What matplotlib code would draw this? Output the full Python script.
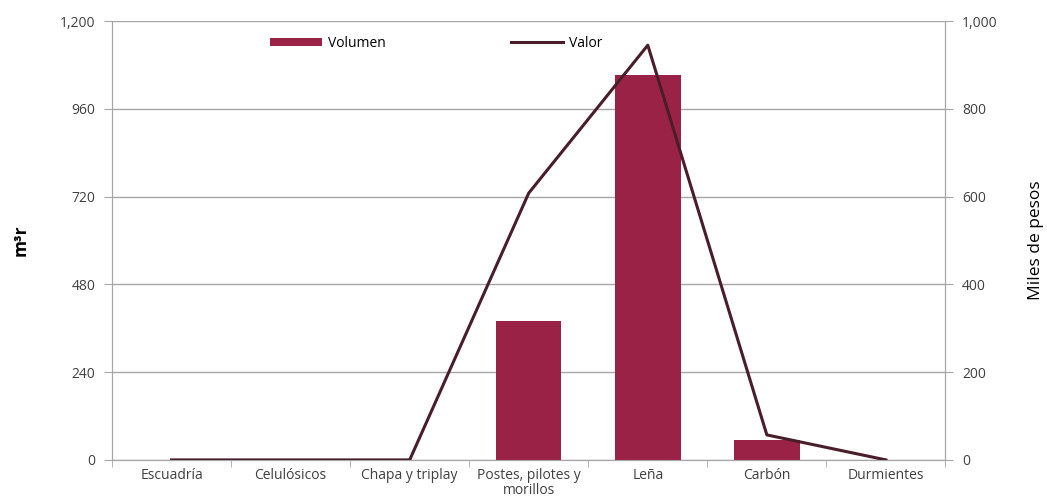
import matplotlib
matplotlib.use("Agg")
import matplotlib.pyplot as plt
from matplotlib.ticker import FuncFormatter
import numpy as np

plt.rcParams['font.family'] = ['Open Sans', 'DejaVu Sans']

categorias = ["Escuadría", "Celulósicos", "Chapa y triplay", "Postes, pilotes y\nmorillos",
              "Leña", "Carbón", "Durmientes"]
volumen = [0, 0, 0, 380, 1052, 55, 0]
valor = [0, 0, 0, 608, 945, 57, 0]

bar_color = "#9B2247"
line_color = "#4A1D2A"
grid_gray = "#A6A6A6"
text_gray = "#404040"

fig = plt.figure(figsize=(10.47, 5.01), dpi=100)
ax = fig.add_axes([0.107, 0.082, 0.796, 0.876])
ax2 = ax.twinx()

x = np.arange(len(categorias))
ax.bar(x, volumen, width=0.55, color=bar_color, label="Volumen", zorder=3)
ax2.plot(x, valor, color=line_color, lw=2.2, label="Valor", zorder=4)

ax.set_xlim(-0.5, len(categorias) - 0.5)
ax.set_ylim(0, 1200)
ax.set_yticks(np.arange(0, 1201, 240))
ax2.set_ylim(0, 1000)
ax2.set_yticks(np.arange(0, 1001, 200))
fmt = FuncFormatter(lambda v, p: f"{int(v):,}")
ax.yaxis.set_major_formatter(fmt)
ax2.yaxis.set_major_formatter(fmt)

ax.grid(axis="y", color=grid_gray, lw=1, zorder=0)
ax.set_axisbelow(True)

ax.set_xticks(x)
ax.set_xticklabels(categorias, fontsize=10, color=text_gray, linespacing=0.95)
ax.set_xticks(np.arange(-0.5, len(categorias), 1), minor=True)
ax.tick_params(axis="x", which="major", length=0, pad=6)
ax.tick_params(axis="x", which="minor", length=5, color=grid_gray)
ax.tick_params(axis="y", length=6, color=grid_gray, labelsize=10, labelcolor=text_gray, pad=6)
ax2.tick_params(axis="y", length=6, color=grid_gray, labelsize=10, labelcolor=text_gray, pad=6)

for a in (ax, ax2):
    a.spines["top"].set_visible(False)
    for s in ("left", "right", "bottom"):
        a.spines[s].set_color(grid_gray)

ax.set_ylabel("m³r", fontsize=12.5, fontweight="bold", labelpad=22)
ax2.set_ylabel("Miles de pesos", fontsize=12.5, labelpad=22)

h1, l1 = ax.get_legend_handles_labels()
h2, l2 = ax2.get_legend_handles_labels()
ax.legend(h1 + h2, l1 + l2, ncol=2, loc="upper left", bbox_to_anchor=(0.174, 0.995),
          frameon=False, fontsize=10, handlelength=3.75, handleheight=0.5,
          columnspacing=9.0, handletextpad=0.45)

fig.savefig("out.png", dpi=100)
